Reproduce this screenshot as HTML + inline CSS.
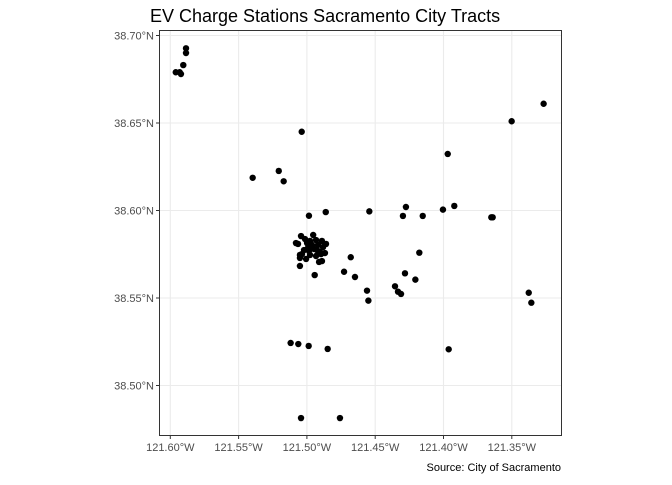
<!DOCTYPE html>
<html><head><meta charset="utf-8"><style>
body{margin:0;background:#fff;width:672px;height:480px;overflow:hidden}
svg text{font-family:"Liberation Sans",Arial,sans-serif}
</style></head><body>
<svg id="chart" width="672" height="480" xmlns="http://www.w3.org/2000/svg">
<text x="150" y="22" font-size="18" fill="#000">EV Charge Stations Sacramento City Tracts</text>
<g id="grid"></g>
<g id="points"></g>
<rect x="159.5" y="30.5" width="402" height="405" fill="none" stroke="#333" stroke-width="1"/>
<g id="axes"></g>
<text x="561" y="471" font-size="11" text-anchor="end" fill="#000">Source: City of Sacramento</text>
</svg>
<script>
const lonTicks=[-121.60,-121.55,-121.50,-121.45,-121.40,-121.35];
const lonLabels=["121.60°W","121.55°W","121.50°W","121.45°W","121.40°W","121.35°W"];
const latTicks=[38.70,38.65,38.60,38.55,38.50];
const latLabels=["38.70°N","38.65°N","38.60°N","38.55°N","38.50°N"];
const stationLon=[-121.5885,-121.5885,-121.5905,-121.5931,-121.5960,-121.5922,-121.5038,-121.5206,-121.5397,-121.5170,-121.4985,-121.4862,-121.4543,-121.4275,-121.4297,-121.4152,-121.4004,-121.3921,-121.3969,-121.3501,-121.3267,-121.3650,-121.3640,-121.4177,-121.4282,-121.4206,-121.4355,-121.4333,-121.4311,-121.3376,-121.3357,-121.3962,-121.4679,-121.5051,-121.4943,-121.4728,-121.4648,-121.4560,-121.4550,-121.5119,-121.5063,-121.4987,-121.4848,-121.5043,-121.4758,
-121.5043,-121.4954,-121.5014,-121.4933,-121.4890,-121.4860,-121.5065,-121.4999,-121.4963,-121.4919,-121.5021,-121.5051,-121.4977,-121.4926,-121.4868,-121.4897,-121.4992,-121.5051,-121.4933,-121.4911,-121.4890,-121.4948,-121.4985,-121.5036,-121.4882,-121.5080,-121.4977,-121.4904,-121.5006];
const stationLat=[38.6927,38.6900,38.6831,38.6790,38.6790,38.6780,38.6450,38.6226,38.6187,38.6167,38.5970,38.5991,38.5995,38.6020,38.5969,38.5969,38.6005,38.6026,38.6323,38.6510,38.6610,38.5961,38.5961,38.5759,38.5641,38.5605,38.5567,38.5536,38.5523,38.5530,38.5473,38.5207,38.5733,38.5683,38.5631,38.5650,38.5620,38.5542,38.5485,38.5243,38.5237,38.5226,38.5209,38.4814,38.4814,
38.5854,38.5860,38.5837,38.5831,38.5826,38.5809,38.5809,38.5814,38.5803,38.5803,38.5774,38.5746,38.5746,38.5774,38.5757,38.5751,38.5786,38.5729,38.5740,38.5706,38.5711,38.5780,38.5769,38.5751,38.5791,38.5814,38.5826,38.5763,38.5723];
const NS="http://www.w3.org/2000/svg";
function xs(lon){return 170.3+(lon+121.60)*1366;}
function ys(lat){return 35.5+(38.70-lat)*1750;}
function mk(tag,attrs,parent){const e=document.createElementNS(NS,tag);for(const k in attrs)e.setAttribute(k,attrs[k]);parent.appendChild(e);return e;}
const grid=document.getElementById('grid'),axes=document.getElementById('axes'),pts=document.getElementById('points');
mk('rect',{x:159.5,y:30.5,width:402,height:405,fill:'#fff'},grid);
lonTicks.forEach((v,i)=>{const x=xs(v);
 const g=mk('line',{x1:x,x2:x,y1:30.5,y2:435.5,stroke:'#ebebeb','stroke-width':1.1},grid);
 
 
 mk('line',{x1:x,x2:x,y1:435.5,y2:439,stroke:'#333'},axes);
 const t=mk('text',{x:x,y:451,'font-size':11,'text-anchor':'middle',fill:'#4d4d4d'},axes);t.textContent=lonLabels[i];
 
 
});
latTicks.forEach((v,i)=>{const y=ys(v);
 const g=mk('line',{x1:159.5,x2:561.5,y1:y,y2:y,stroke:'#ebebeb','stroke-width':1.1},grid);
 
 
 mk('line',{x1:156,x2:159.5,y1:y,y2:y,stroke:'#333'},axes);
 const t=mk('text',{x:154,y:y+4,'font-size':11,'text-anchor':'end',fill:'#4d4d4d'},axes);t.textContent=latLabels[i];
 
 
});
stationLon.forEach((lon,i)=>{
 const c=mk('circle',{cx:xs(lon),cy:ys(stationLat[i]),r:3.2,fill:'#000'},pts);
 
 
});
</script>
</body></html>
